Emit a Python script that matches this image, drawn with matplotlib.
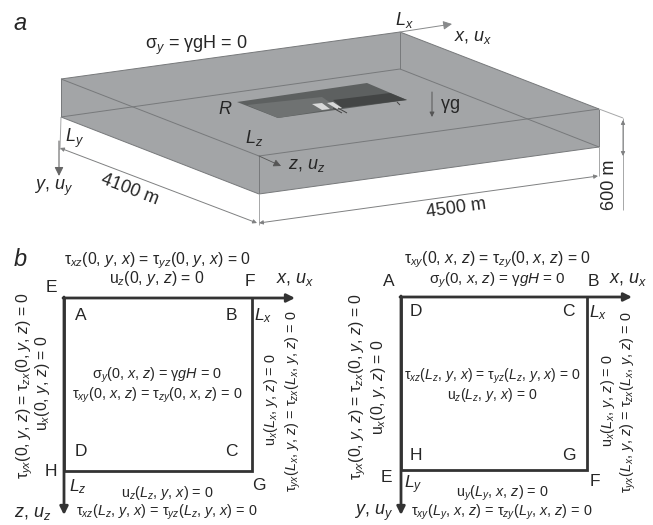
import matplotlib
matplotlib.use("Agg")
import matplotlib.pyplot as plt
from matplotlib.patches import Polygon, FancyArrowPatch

plt.rcParams.update({
    "font.family": "Liberation Sans",
    "mathtext.fontset": "custom",
    "mathtext.rm": "Liberation Sans",
    "mathtext.it": "Liberation Sans:italic",
    "mathtext.bf": "Liberation Sans:bold",
    "mathtext.default": "rm",
})

TXT = "#262626"
# ---- panel a: block geometry (pixels)
top_a, top_b, top_c, top_d = (61, 79), (400, 32), (599, 109), (259, 156)
bot_a, bot_b, bot_c, bot_d = (61, 117), (400, 69), (599, 147), (259, 194)

reservoir_outline = [(237, 102), (367, 83), (407, 100), (278, 118)]
reservoir_light = [(247, 105), (322, 97), (338, 108), (278, 118)]
reservoir_dark = [(333, 100), (390, 93), (407, 100), (342, 108)]
strip_1 = [(312, 104), (322, 103), (330, 109), (322, 110)]
strip_2 = [(327, 103), (333, 102), (342, 108), (337, 109)]

panel_a_labels = [
    (20, 24, r"$\mathit{a}$", 17, 0),
    (196, 45, r"$\mathrm{\sigma}_{\mathit{y}}$ = $\mathrm{\gamma}$gH = 0", 13, 0),
    (404, 20, r"$\mathit{L_x}$", 13, 0),
    (473, 37, r"$\mathit{x}$, $\mathit{u_x}$", 13, 0),
    (225, 109, r"$\mathit{R}$", 13, 0),
    (450, 106, r"$\mathrm{\gamma}$g", 13, 0),
    (254, 138, r"$\mathit{L_z}$", 13, 0),
    (307, 165, r"$\mathit{z}$, $\mathit{u_z}$", 13, 0),
    (74, 138, r"$\mathit{L_y}$", 13, 0),
    (53, 188, r"$\mathit{y}$, $\mathit{u_y}$", 13, 0),
    (130, 190, "4100 m", 13, -21),
    (456, 208, "4500 m", 13, 8),
    (609, 185, "600 m", 13, 90),
]

# ---- panel b: square outlines (pixels)
left_box = (64, 298, 252, 471)
right_box = (401, 297, 587, 470)
left_arrow_ends = (295, 515)
right_arrow_ends = (632, 515)

T = r"\mathrm{\tau}"
S = 11.3   # labels with plain arguments
Q = 10.4   # tighter labels
panel_b_labels = [
    (20, 260, r"$\mathit{b}$", 17, 0),
    (157, 261, rf"${T}_{{\mathit{{xz}}}}$(0, $\mathit{{y}}$, $\mathit{{x}}$) = ${T}_{{\mathit{{yz}}}}$(0, $\mathit{{y}}$, $\mathit{{x}}$) = 0", S, 0),
    (157, 279, r"u$_{\mathit{z}}$(0, $\mathit{y}$, $\mathit{z}$) = 0", S, 0),
    (51, 287, "E", 12.5, 0), (250, 282, "F", 12.5, 0),
    (295, 280, r"$\mathit{x}$, $\mathit{u_x}$", 13, 0),
    (81, 316, "A", 12.5, 0), (231, 316, "B", 12.5, 0),
    (263, 316, r"$\mathit{L_x}$", 12.5, 0),
    (25, 386, rf"${T}_{{\mathit{{yx}}}}$(0, $\mathit{{y}}$, $\mathit{{z}}$) = ${T}_{{\mathit{{zx}}}}$(0, $\mathit{{y}}$, $\mathit{{z}}$) = 0", S, 90),
    (43, 383, r"u$_{\mathit{x}}$(0, $\mathit{y}$, $\mathit{z}$) = 0", S, 90),
    (157, 375, r"$\mathrm{\sigma}_{\mathit{y}}$(0, $\mathit{x}$, $\mathit{z}$) = $\mathrm{\gamma}\mathit{gH}$ = 0", Q, 0),
    (157, 395, rf"${T}_{{\mathit{{xy}}}}$(0, $\mathit{{x}}$, $\mathit{{z}}$) = ${T}_{{\mathit{{zy}}}}$(0, $\mathit{{x}}$, $\mathit{{z}}$) = 0", Q, 0),
    (271, 400, r"u$_{\mathit{x}}$($\mathit{L_x}$, $\mathit{y}$, $\mathit{z}$) = 0", Q, 90),
    (293, 401, rf"${T}_{{\mathit{{yx}}}}$($\mathit{{L_x}}$, $\mathit{{y}}$, $\mathit{{z}}$) = ${T}_{{\mathit{{zx}}}}$($\mathit{{L_x}}$, $\mathit{{y}}$, $\mathit{{z}}$) = 0", Q, 90),
    (81, 451, "D", 12.5, 0), (231, 451, "C", 12.5, 0),
    (51, 472, "H", 12.5, 0), (259, 485, "G", 12.5, 0),
    (78, 487, r"$\mathit{L_z}$", 12.5, 0),
    (167, 493, r"u$_{\mathit{z}}$($\mathit{L_z}$, $\mathit{y}$, $\mathit{x}$) = 0", Q, 0),
    (167, 512, rf"${T}_{{\mathit{{xz}}}}$($\mathit{{L_z}}$, $\mathit{{y}}$, $\mathit{{x}}$) = ${T}_{{\mathit{{yz}}}}$($\mathit{{L_z}}$, $\mathit{{y}}$, $\mathit{{x}}$) = 0", Q, 0),
    (33, 513, r"$\mathit{z}$, $\mathit{u_z}$", 13, 0),
    # right square
    (497, 260, rf"${T}_{{\mathit{{xy}}}}$(0, $\mathit{{x}}$, $\mathit{{z}}$) = ${T}_{{\mathit{{zy}}}}$(0, $\mathit{{x}}$, $\mathit{{z}}$) = 0", S, 0),
    (497, 280, r"$\mathrm{\sigma}_{\mathit{y}}$(0, $\mathit{x}$, $\mathit{z}$) = $\mathrm{\gamma}\mathit{gH}$ = 0", 10.9, 0),
    (389, 282, "A", 12.5, 0), (593, 282, "B", 12.5, 0),
    (628, 280, r"$\mathit{x}$, $\mathit{u_x}$", 13, 0),
    (416, 312, "D", 12.5, 0), (568, 312, "C", 12.5, 0),
    (598, 313, r"$\mathit{L_x}$", 12.5, 0),
    (358, 387, rf"${T}_{{\mathit{{yx}}}}$(0, $\mathit{{y}}$, $\mathit{{z}}$) = ${T}_{{\mathit{{zx}}}}$(0, $\mathit{{y}}$, $\mathit{{z}}$) = 0", S, 90),
    (378, 387, r"u$_{\mathit{x}}$(0, $\mathit{y}$, $\mathit{z}$) = 0", S, 90),
    (492, 376, rf"${T}_{{\mathit{{xz}}}}$($\mathit{{L_z}}$, $\mathit{{y}}$, $\mathit{{x}}$) = ${T}_{{\mathit{{yz}}}}$($\mathit{{L_z}}$, $\mathit{{y}}$, $\mathit{{x}}$) = 0", 10.1, 0),
    (492, 395, r"u$_{\mathit{z}}$($\mathit{L_z}$, $\mathit{y}$, $\mathit{x}$) = 0", 10.1, 0),
    (608, 401, r"u$_{\mathit{x}}$($\mathit{L_x}$, $\mathit{y}$, $\mathit{z}$) = 0", Q, 90),
    (628, 402, rf"${T}_{{\mathit{{yx}}}}$($\mathit{{L_x}}$, $\mathit{{y}}$, $\mathit{{z}}$) = ${T}_{{\mathit{{zx}}}}$($\mathit{{L_x}}$, $\mathit{{y}}$, $\mathit{{z}}$) = 0", Q, 90),
    (416, 455, "H", 12.5, 0), (569, 455, "G", 12.5, 0),
    (386, 478, "E", 12.5, 0), (595, 482, "F", 12.5, 0),
    (413, 485, r"$\mathit{L_y}$", 12.5, 0),
    (502, 493, r"u$_{\mathit{y}}$($\mathit{L_y}$, $\mathit{x}$, $\mathit{z}$) = 0", Q, 0),
    (502, 512, rf"${T}_{{\mathit{{xy}}}}$($\mathit{{L_y}}$, $\mathit{{x}}$, $\mathit{{z}}$) = ${T}_{{\mathit{{zy}}}}$($\mathit{{L_y}}$, $\mathit{{x}}$, $\mathit{{z}}$) = 0", Q, 0),
    (373, 513, r"$\mathit{y}$, $\mathit{u_y}$", 13, 0),
]

fig = plt.figure(figsize=(6.53, 5.25), dpi=100)
ax = fig.add_axes([0, 0, 1, 1])
ax.set_xlim(0, 653)
ax.set_ylim(525, 0)
ax.axis("off")


def poly(pts, color, z=1, **kw):
    ax.add_patch(Polygon(pts, closed=True, facecolor=color, edgecolor="none", zorder=z, **kw))


def line(a, b, color="#77797b", lw=0.7, z=3, ls="-"):
    ax.plot([a[0], b[0]], [a[1], b[1]], color=color, lw=lw, ls=ls, zorder=z, solid_capstyle="butt")


def arrow(a, b, color="#333333", lw=1.0, ms=11, style="-|>", z=4):
    ax.add_patch(FancyArrowPatch(a, b, arrowstyle=style, mutation_scale=ms, color=color,
                                 lw=lw, shrinkA=0, shrinkB=0, zorder=z))


# block faces
poly([top_a, top_b, top_c, bot_c, bot_d, bot_a], "#a3a5a7", 1)

# block edges
for a, b in [(top_a, top_b), (top_b, top_c), (top_c, top_d), (top_d, top_a),
             (bot_a, bot_b), (bot_b, bot_c), (bot_c, bot_d), (bot_d, bot_a),
             (top_a, bot_a), (top_b, bot_b), (top_c, bot_c), (top_d, bot_d)]:
    line(a, b)

# reservoir
poly(reservoir_outline, "#5d6060", 2)
poly(reservoir_light, "#6f7272", 2.1)
poly(reservoir_dark, "#434545", 2.2)
poly(strip_1, "#d8d9d9", 2.3)
poly(strip_2, "#d8d9d9", 2.3)
line((333, 108), (342, 113), "#444444", 0.7)
line((338, 108), (347, 113), "#444444", 0.7)
line((397, 102), (400, 105), "#444444", 0.7)

# dimension lines
DIM = "#a6a7a8"
line(bot_a, (60, 150), DIM)
line(bot_d, (259, 225), DIM)
line(bot_c, (599, 176), DIM)
line(top_c, (623, 118), DIM)
line((623, 118), (623, 210), DIM)
arrow((60, 148), (257, 223), "#7f8081", 0.7, 6, "<|-|>")
arrow((259, 223), (598, 176), "#7f8081", 0.7, 6, "<|-|>")
arrow((623, 120), (623, 156), "#7f8081", 0.7, 6, "<|-|>")

# axes in panel a
arrow(top_b, (452, 24), "#888a8b", 0.7, 13)
arrow((59, 141), (59, 176), "#666666", 0.8, 13)
arrow(top_d, (281, 166), "#555555", 0.6, 11)
arrow((432, 92), (432, 117), "#555555", 0.7, 7)

# panel b squares
for (x0, y0, x1, y1), (xe, ye) in [(left_box, left_arrow_ends), (right_box, right_arrow_ends)]:
    ax.plot([x1, x1, x0, x0], [y0, y1, y1, y0], color="#333333", lw=2.0, zorder=3,
            solid_joinstyle="miter")
    arrow((x0 - 1, y0), (xe, y0), "#333333", 2.0, 12)
    arrow((x0, y0 - 1), (x0, ye), "#333333", 2.0, 12)

for x, y, s, size, rot in panel_a_labels + panel_b_labels:
    ax.text(x, y, s, fontsize=size, rotation=rot, color=TXT, ha="center", va="center",
            rotation_mode="anchor" if rot not in (0, 90) else "default", zorder=6)

fig.savefig("out.png", dpi=100)
